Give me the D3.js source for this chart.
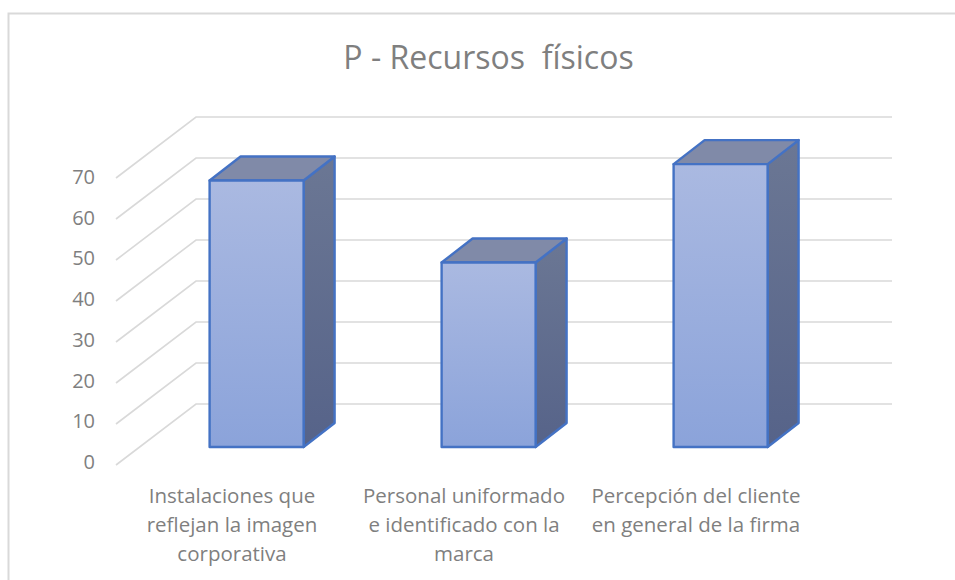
<!DOCTYPE html>
<meta charset="utf-8">
<style>
body { margin: 0; background: #fff; }
text { font-family: "Open Sans", "Noto Sans", sans-serif; fill: #7f7f7f; }
</style>
<svg width="955" height="580"></svg>
<script src="https://d3js.org/d3.v7.min.js"></script>
<script>

var categories = [
  ["Instalaciones que", "reflejan la imagen", "corporativa"],
  ["Personal uniformado", "e identificado con la", "marca"],
  ["Percepción del cliente", "en general de la firma"]
];
var values = [65, 45, 69];
var ticks = [0, 10, 20, 30, 40, 50, 60, 70];

var svg = d3.select("svg");

// back wall of the 3d box, the floor runs forward from it
var wallLeft = 196, wallRight = 892,
    wallBottom = 404, wallTop = 117,
    floorDx = 80, floorDy = 61,
    barDx = 31, barDy = 24, barWidth = 94,
    barDepth = 43 / 61; // how far the bar front sits from the wall

var y = d3.scaleLinear().domain([0, 70]).range([wallBottom, wallTop]);
var yLabel = d3.scaleLinear().domain([0, 70]).range([469, 184]);
var x = d3.scaleBand().domain(d3.range(categories.length))
    .range([wallLeft + 1 - floorDx * barDepth, wallRight + 1 - floorDx * barDepth]);
// labels sit along the front edge of the floor
var xFront = d3.scaleBand().domain(d3.range(categories.length))
    .range([wallLeft - floorDx, wallRight - floorDx]);

var defs = svg.append("defs");

function gradient(id, x2, y2, stops) {
  var g = defs.append("linearGradient").attr("id", id)
      .attr("x1", 0).attr("y1", 0).attr("x2", x2).attr("y2", y2);
  stops.forEach(function(s, i) {
    g.append("stop").attr("offset", i / (stops.length - 1)).attr("stop-color", s);
  });
}
gradient("front", 0, 1, ["#aab9e1", "#8ba3da"]);
gradient("side", 0, 1, ["#6b7794", "#566389"]);

// frame of the chart area, cut off by the screenshot
svg.append("path")
    .attr("d", "M8.5,580V13.5H955")
    .attr("fill", "none")
    .attr("stroke", "#d9d9d9")
    .attr("stroke-width", 2);

svg.append("text")
    .attr("x", 488.5).attr("y", 69)
    .attr("text-anchor", "middle")
    .style("font-size", "32px")
    .attr("xml:space", "preserve")
    .text("P - Recursos  físicos");

var grid = svg.append("g")
    .attr("fill", "none")
    .attr("stroke", "#d9d9d9")
    .attr("stroke-width", 1.6);

grid.selectAll("path")
  .data(ticks)
  .enter().append("path")
    .attr("d", function(d) {
      return "M" + (wallLeft - floorDx) + "," + (y(d) + floorDy) +
             "L" + wallLeft + "," + y(d) + "H" + wallRight;
    });

svg.append("g").selectAll("text")
  .data(ticks)
  .enter().append("text")
    .attr("x", 95)
    .attr("y", function(d) { return yLabel(d); })
    .attr("text-anchor", "end")
    .style("font-size", "20px")
    .text(function(d) { return d; });

var bar = svg.append("g").selectAll("g")
  .data(values)
  .enter().append("g")
    .attr("stroke", "#4472c4")
    .attr("stroke-width", 2.4)
    .attr("stroke-linejoin", "round");

function left(i) { return x(i) + x.bandwidth() / 2 - barWidth / 2; }
var base = wallBottom + floorDy * barDepth;
function barTop(d) { return base - (wallBottom - y(d)); }

// side face
bar.append("path")
    .attr("fill", "url(#side)")
    .attr("d", function(d, i) {
      var r = left(i) + barWidth;
      return "M" + r + "," + base + "V" + barTop(d) +
             "l" + barDx + "," + (-barDy) + "V" + (base - barDy) + "Z";
    });

// top face
bar.append("path")
    .attr("fill", "#808aa8")
    .attr("d", function(d, i) {
      return "M" + left(i) + "," + barTop(d) + "l" + barDx + "," + (-barDy) +
             "h" + barWidth + "l" + (-barDx) + "," + barDy + "Z";
    });

// front face
bar.append("rect")
    .attr("fill", "url(#front)")
    .attr("x", function(d, i) { return left(i); })
    .attr("y", function(d) { return barTop(d); })
    .attr("width", barWidth)
    .attr("height", function(d) { return base - barTop(d); });

var label = svg.append("g").selectAll("text")
  .data(categories)
  .enter().append("text")
    .attr("text-anchor", "middle")
    .style("font-size", "20.5px")
    .attr("transform", function(d, i) {
      return "translate(" + (xFront(i) + xFront.bandwidth() / 2) + ",503)";
    });

label.selectAll("tspan")
  .data(function(d) { return d; })
  .enter().append("tspan")
    .attr("x", 0)
    .attr("y", function(d, i) { return i * 29; })
    .text(function(d) { return d; });

</script>
